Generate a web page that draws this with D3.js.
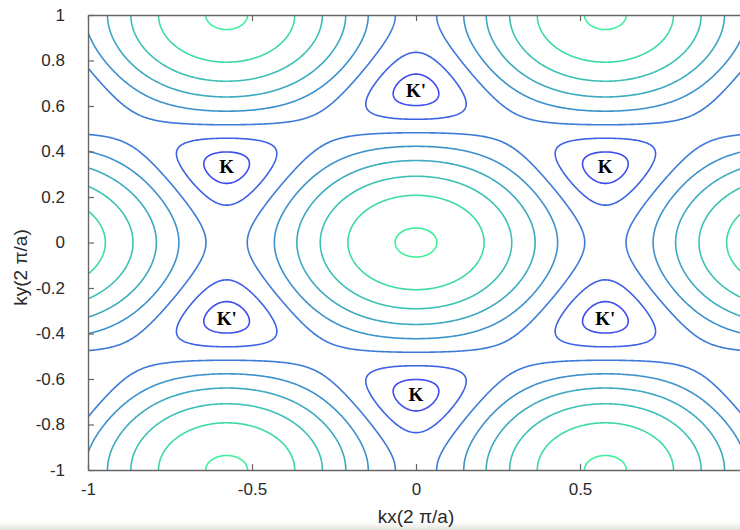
<!DOCTYPE html>
<html>
<head>
<meta charset="utf-8">
<script src="https://cdn.jsdelivr.net/npm/d3@7"></script>
<style>
  body { margin: 0; background: #fff; }
  text { font-family: "Liberation Sans", Arial, sans-serif; }
</style>
</head>
<body>
<svg id="chart" width="740" height="530"></svg>
<script>
// ===================== DATA =====================
// energy levels of the drawn contours (in units of the hopping t)
const levels = [0.37, 0.74, 1.11, 1.48, 1.85, 2.22, 2.59, 2.96];
const xTicks = [-1, -0.5, 0, 0.5];
const yTicks = [-1, -0.8, -0.6, -0.4, -0.2, 0, 0.2, 0.4, 0.6, 0.8, 1];
// valley labels and where they sit (units of 2pi/a)
const valleyNames = ["K'", "K", "K", "K'", "K'", "K"];
const valleyKx = [0, -0.577, 0.577, -0.577, 0.577, 0];
const valleyKy = [0.667, 0.333, 0.333, -0.333, -0.333, -0.667];

// ===================== SVG + SCALES =====================
let svg = d3.select("#chart"),
    margin = {left: 88, top: 15, bottom: 470, right: 744},
    x = d3.scaleLinear().domain([-1, 1]).range([margin.left, margin.right]),
    y = d3.scaleLinear().domain([-1, 1]).range([margin.bottom, margin.top]),
    color = d3.scaleLinear()
      .domain([levels[0], levels[levels.length - 1]])
      .range(["#3d4cf0", "#3df09c"])
      .interpolate(d3.interpolateRgb);

let defs = svg.append("defs");

// faint grey strip of the scanned page at the bottom
let fade = defs.append("linearGradient")
    .attr("id", "fade").attr("x1", 0).attr("x2", 0).attr("y1", 0).attr("y2", 1);
fade.append("stop").attr("offset", "0%").attr("stop-color", "#fff");
fade.append("stop").attr("offset", "100%").attr("stop-color", "#e4e2dc");
svg.append("rect").attr("x", 0).attr("y", 522).attr("width", 740).attr("height", 8)
    .attr("fill", "url(#fade)");

defs.append("clipPath").attr("id", "plotclip")
  .append("rect")
    .attr("x", margin.left).attr("y", margin.top)
    .attr("width", margin.right - margin.left).attr("height", margin.bottom - margin.top);

// ===================== ENERGY SURFACE (graphene tight binding) =====================
// |E| = |1 + e^{i k.a1} + e^{i k.a2}|, a1 = (sqrt3/2, -1/2), a2 = (0, 1), a1+a2 third bond
function energy(kx, ky) {
  let p1 = 2 * Math.PI * (Math.sqrt(3) / 2 * kx - ky / 2),
      p2 = 2 * Math.PI * ky;
  let v = 3 + 2 * Math.cos(p1) + 2 * Math.cos(p2) + 2 * Math.cos(p1 + p2);
  return Math.sqrt(Math.max(v, 0));
}

let k0 = -1.1, step = 0.004, n = Math.round(2.2 / step) + 1;
let grid = new Float64Array(n * n);
for (let j = 0; j < n; j++) {
  for (let i = 0; i < n; i++) {
    grid[j * n + i] = energy(k0 + i * step, k0 + j * step);
  }
}

let contours = d3.contours().size([n, n]).thresholds(levels)(grid);

let proj = d3.geoTransform({
  point: function(px, py) {
    this.stream.point(x(k0 + (px - 0.5) * step), y(k0 + (py - 0.5) * step));
  }
});
let path = d3.geoPath(proj);

svg.append("g")
    .attr("clip-path", "url(#plotclip)")
  .selectAll("path")
  .data(contours)
  .enter().append("path")
    .attr("d", path)
    .attr("fill", "none")
    .attr("stroke", function(d) { return color(d.value); })
    .attr("stroke-width", 1.6)
    .attr("stroke-linejoin", "round");

// ===================== VALLEY LABELS =====================
svg.append("g").selectAll("text")
  .data(valleyNames)
  .enter().append("text")
    .attr("x", function(d, i) { return x(valleyKx[i]); })
    .attr("y", function(d, i) { return y(valleyKy[i]); })
    .attr("dy", "0.35em")
    .attr("text-anchor", "middle")
    .style("font-family", "'Liberation Serif', 'Times New Roman', serif")
    .style("font-weight", "bold")
    .style("font-size", "19px")
    .attr("fill", "#000")
    .text(function(d) { return d; });

// ===================== AXES =====================
let fmt = function(d) { return String(d); };

let xAxis = svg.append("g")
    .attr("transform", "translate(0," + margin.bottom + ")")
    .call(d3.axisBottom(x).tickValues(xTicks).tickFormat(fmt)
      .tickSizeInner(-6).tickSizeOuter(0).tickPadding(13));

let xTop = svg.append("g")
    .attr("transform", "translate(0," + margin.top + ")")
    .call(d3.axisTop(x).tickValues(xTicks).tickFormat("")
      .tickSizeInner(-6).tickSizeOuter(0));

let yAxis = svg.append("g")
    .attr("transform", "translate(" + margin.left + ",0)")
    .call(d3.axisLeft(y).tickValues(yTicks).tickFormat(fmt)
      .tickSizeInner(-6).tickSizeOuter(0).tickPadding(23));

[xAxis, xTop, yAxis].forEach(function(a) {
  a.selectAll(".domain").attr("stroke", "#666").attr("stroke-width", 1.4);
  a.selectAll(".tick line").attr("stroke", "#666").attr("stroke-width", 1.2);
  a.selectAll(".tick text")
    .attr("fill", "#2a2a2a")
    .style("font-size", "17px")
    .style("font-family", "'Liberation Sans', Arial, sans-serif");
});

svg.append("text")
    .attr("x", x(0))
    .attr("y", 523)
    .attr("text-anchor", "middle")
    .attr("fill", "#2a2a2a")
    .style("font-size", "19px")
    .text("kx(2 \u03c0/a)");

svg.append("text")
    .attr("transform", "translate(27," + ((margin.top + margin.bottom) / 2 + 25) + ") rotate(-90)")
    .attr("text-anchor", "middle")
    .attr("fill", "#2a2a2a")
    .style("font-size", "19px")
    .text("ky(2 \u03c0/a)");
</script>
</body>
</html>
